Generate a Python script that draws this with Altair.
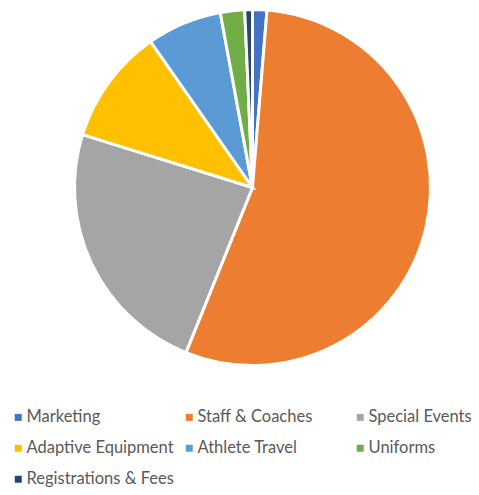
import altair as alt
import pandas as pd

categories = ["Marketing", "Staff & Coaches", "Special Events", "Adaptive Equipment",
              "Athlete Travel", "Uniforms", "Registrations & Fees"]
values = [1.3, 54.8, 23.7, 10.5, 6.8, 2.2, 0.7]
colors = ["#4472C4", "#ED7D31", "#A5A5A5", "#FFC000", "#5B9BD5", "#70AD47", "#264478"]

df = pd.DataFrame({"category": categories, "value": values, "idx": list(range(len(categories)))})

chart = alt.Chart(df).mark_arc(radius=178, stroke="white", strokeWidth=3).encode(
    theta=alt.Theta("value:Q", stack=True),
    order=alt.Order("idx:Q"),
    x=alt.value(244.5),
    y=alt.value(179.5),
    color=alt.Color(
        "category:N",
        scale=alt.Scale(domain=categories, range=colors),
        sort=categories,
        legend=alt.Legend(
            title=None, orient="none", legendX=2, legendY=401, columns=3,
            direction="horizontal",
            symbolType="square", symbolSize=49, symbolStrokeWidth=0,
            labelFont="Lato", labelFontSize=16.5, labelColor="#595959",
            labelOffset=0, columnPadding=7, rowPadding=14, gridAlign="all",
            padding=0, labelLimit=300,
        ),
    ),
).properties(
    width=463, height=479, autosize=alt.AutoSizeParams(type="none"), padding=0
).configure_view(stroke=None)

chart.save("out.html", embed_options={"renderer": "svg", "actions": False})
